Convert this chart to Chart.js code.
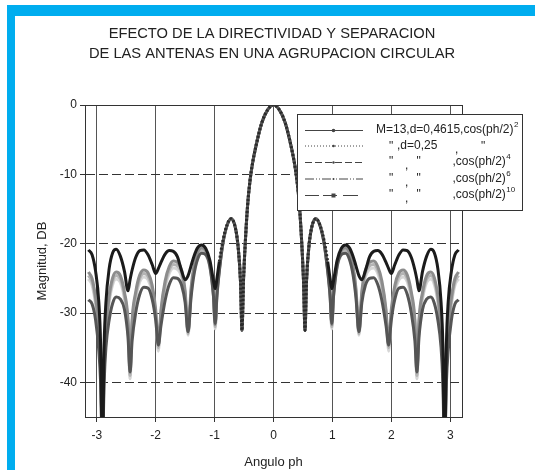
<!DOCTYPE html>
<html><head><meta charset="utf-8">
<script src="https://cdn.jsdelivr.net/npm/chart.js@4.4.1/dist/chart.umd.min.js"></script>
<style>
html,body{margin:0;padding:0;background:#fff;}
#wrap{position:relative;width:535px;height:470px;overflow:hidden;background:#fff;}
.bar{position:absolute;background:#00adef;}
canvas{position:absolute;left:0;top:0;}
</style></head><body>
<div id="wrap">
<div class="bar" style="left:7px;top:5px;width:528px;height:11px"></div>
<div class="bar" style="left:7px;top:5px;width:8px;height:465px"></div>
<canvas id="c" width="535" height="470"></canvas>
</div>
<script>
const titleLines = ['EFECTO DE LA DIRECTIVIDAD Y SEPARACION', 'DE LAS ANTENAS EN UNA AGRUPACION CIRCULAR'];
const xTitle = 'Angulo ph';
const yTitle = 'Magnitud, DB';
const xTicks = [-3, -2, -1, 0, 1, 2, 3];
const yTicks = [0, -10, -20, -30, -40];

const phase = [-3.1416,-3.08,-3.02,-2.965,-2.935,-2.905,-2.875,-2.845,-2.79,-2.73,-2.67,-2.60,-2.53,-2.47,-2.435,-2.40,-2.34,-2.27,-2.20,-2.13,-2.06,-2.00,-1.955,-1.91,-1.84,-1.77,-1.70,-1.63,-1.56,-1.50,-1.45,-1.40,-1.35,-1.29,-1.22,-1.15,-1.08,-1.02,-0.99,-0.96,-0.92,-0.86,-0.79,-0.72,-0.65,-0.60,-0.56,-0.535,-0.51,-0.48,-0.44,-0.40,-0.36,-0.30,-0.20,-0.10,0,0.10,0.20,0.30,0.36,0.40,0.44,0.48,0.51,0.535,0.56,0.60,0.65,0.72,0.79,0.86,0.92,0.96,0.99,1.02,1.08,1.15,1.22,1.29,1.35,1.40,1.45,1.50,1.56,1.63,1.70,1.77,1.84,1.91,1.955,2.00,2.06,2.13,2.20,2.27,2.34,2.40,2.435,2.47,2.53,2.60,2.67,2.73,2.79,2.845,2.875,2.905,2.935,2.965,3.02,3.08,3.1416];

// M=13, d=0,4615, cos(ph/2)^2
const dbCos2 = [-20.9,-21.6,-24.0,-28.5,-34.5,-50,-34.5,-28.5,-23.6,-21.3,-20.8,-21.8,-24.0,-26.8,-25.2,-23.8,-22.0,-21.0,-20.9,-21.6,-23.0,-24.3,-23.6,-22.7,-21.5,-21.0,-21.1,-21.9,-23.9,-25.2,-24.6,-23.2,-21.8,-20.6,-20.2,-20.7,-22.4,-25.3,-26.5,-25.0,-22.6,-19.6,-17.3,-16.4,-17.6,-20.5,-25.5,-32.5,-25.5,-20.0,-14.5,-11.0,-8.6,-6.0,-2.6,-0.7,0,-0.7,-2.6,-6.0,-8.6,-11.0,-14.5,-20.0,-25.5,-32.5,-25.5,-20.5,-17.6,-16.4,-17.3,-19.6,-22.6,-25.0,-26.5,-25.3,-22.4,-20.7,-20.2,-20.6,-21.8,-23.2,-24.6,-25.2,-23.9,-21.9,-21.1,-21.0,-21.5,-22.7,-23.6,-24.3,-23.0,-21.6,-20.9,-21.0,-22.0,-23.8,-25.2,-26.8,-24.0,-21.8,-20.8,-21.3,-23.6,-28.5,-34.5,-50,-34.5,-28.5,-24.0,-21.6,-20.9];
// d=0,25
const dbD025 = [-24.1,-25.0,-27.8,-32.0,-37.0,-50,-37.0,-32.0,-27.5,-24.9,-24.1,-24.6,-27.0,-31.0,-38.5,-31.0,-27.0,-24.5,-23.8,-24.2,-26.0,-29.5,-34.6,-29.5,-25.4,-23.3,-22.5,-22.7,-23.8,-26.8,-32.7,-26.5,-23.2,-21.3,-20.6,-21.0,-22.8,-27.0,-31.7,-27.0,-23.6,-19.9,-17.4,-16.4,-17.6,-20.5,-25.5,-32.5,-25.5,-20.0,-14.5,-11.0,-8.6,-6.0,-2.6,-0.7,0,-0.7,-2.6,-6.0,-8.6,-11.0,-14.5,-20.0,-25.5,-32.5,-25.5,-20.5,-17.6,-16.4,-17.4,-19.9,-23.6,-27.0,-31.7,-27.0,-22.8,-21.0,-20.6,-21.3,-23.2,-26.5,-32.7,-26.8,-23.8,-22.7,-22.5,-23.3,-25.4,-29.5,-34.6,-29.5,-26.0,-24.2,-23.8,-24.5,-27.0,-31.0,-38.5,-31.0,-27.0,-24.6,-24.1,-24.9,-27.5,-32.0,-37.0,-50,-37.0,-32.0,-27.8,-25.0,-24.1];
// cos(ph/2)^4
const dbCos4 = [-24.6,-25.5,-28.3,-32.5,-37.5,-50,-37.5,-32.5,-28.0,-25.4,-24.6,-25.1,-27.5,-31.5,-39.0,-31.5,-27.5,-25.0,-24.3,-24.7,-26.5,-30.0,-35.0,-30.0,-25.9,-23.8,-23.0,-23.2,-24.3,-27.3,-33.0,-27.0,-23.7,-21.7,-20.9,-21.3,-23.1,-27.3,-32.0,-27.3,-23.8,-20.0,-17.4,-16.4,-17.6,-20.5,-25.5,-32.5,-25.5,-20.0,-14.5,-11.0,-8.6,-6.0,-2.6,-0.7,0,-0.7,-2.6,-6.0,-8.6,-11.0,-14.5,-20.0,-25.5,-32.5,-25.5,-20.5,-17.6,-16.4,-17.4,-20.0,-23.8,-27.3,-32.0,-27.3,-23.1,-21.3,-20.9,-21.7,-23.7,-27.0,-33.0,-27.3,-24.3,-23.2,-23.0,-23.8,-25.9,-30.0,-35.0,-30.0,-26.5,-24.7,-24.3,-25.0,-27.5,-31.5,-39.0,-31.5,-27.5,-25.1,-24.6,-25.4,-28.0,-32.5,-37.5,-50,-37.5,-32.5,-28.3,-25.5,-24.6];
// cos(ph/2)^6
const dbCos6 = [-25.1,-26.0,-28.8,-33.0,-38.0,-50,-38.0,-33.0,-28.5,-25.9,-25.1,-25.6,-28.0,-32.0,-39.5,-32.0,-28.0,-25.5,-24.8,-25.2,-27.0,-30.5,-35.5,-30.5,-26.4,-24.3,-23.5,-23.7,-24.8,-27.8,-33.2,-27.5,-24.1,-22.0,-21.2,-21.6,-23.4,-27.6,-32.3,-27.6,-24.0,-20.1,-17.5,-16.4,-17.6,-20.5,-25.5,-32.5,-25.5,-20.0,-14.5,-11.0,-8.6,-6.0,-2.6,-0.7,0,-0.7,-2.6,-6.0,-8.6,-11.0,-14.5,-20.0,-25.5,-32.5,-25.5,-20.5,-17.6,-16.4,-17.5,-20.1,-24.0,-27.6,-32.3,-27.6,-23.4,-21.6,-21.2,-22.0,-24.1,-27.5,-33.2,-27.8,-24.8,-23.7,-23.5,-24.3,-26.4,-30.5,-35.5,-30.5,-27.0,-25.2,-24.8,-25.5,-28.0,-32.0,-39.5,-32.0,-28.0,-25.6,-25.1,-25.9,-28.5,-33.0,-38.0,-50,-38.0,-33.0,-28.8,-26.0,-25.1];
// cos(ph/2)^10
const dbCos10 = [-28.1,-28.7,-31.0,-35.5,-40.0,-50,-40.0,-35.0,-31.0,-28.6,-27.7,-28.0,-29.5,-33.5,-38.5,-34.0,-30.0,-27.3,-26.3,-26.4,-28.0,-31.0,-34.6,-31.8,-28.2,-25.9,-24.9,-25.0,-26.0,-28.5,-32.7,-27.8,-24.5,-22.3,-21.4,-21.6,-23.3,-27.5,-31.5,-27.5,-24.0,-20.0,-17.4,-16.4,-17.6,-20.5,-25.5,-32.5,-25.5,-20.0,-14.5,-11.0,-8.6,-6.0,-2.6,-0.7,0,-0.7,-2.6,-6.0,-8.6,-11.0,-14.5,-20.0,-25.5,-32.5,-25.5,-20.5,-17.6,-16.4,-17.4,-20.0,-24.0,-27.5,-31.5,-27.5,-23.3,-21.6,-21.4,-22.3,-24.5,-27.8,-32.7,-28.5,-26.0,-25.0,-24.9,-25.9,-28.2,-31.8,-34.6,-31.0,-28.0,-26.4,-26.3,-27.3,-30.0,-34.0,-38.5,-33.5,-29.5,-28.0,-27.7,-28.6,-31.0,-35.0,-40.0,-50,-40.0,-35.5,-31.0,-28.7,-28.1];

const seriesLabels = ['M=13,d=0,4615,cos(ph/2)^2', 'd=0,25', 'cos(ph/2)^4', 'cos(ph/2)^6', 'cos(ph/2)^10'];

const FONT = '"Liberation Sans", Arial, sans-serif';
const pts = arr => phase.map((p, i) => ({x: p, y: arr[i]}));

const decorPlugin = {
  id: 'decor',
  afterDraw(chart) {
    const ctx = chart.ctx;
    const a = chart.chartArea;
    ctx.save();
    ctx.strokeStyle = '#333';
    ctx.lineWidth = 1;
    ctx.setLineDash([]);
    ctx.strokeRect(Math.round(a.left) + 0.5, Math.round(a.top) + 0.5, Math.round(a.right - a.left), Math.round(a.bottom - a.top));

    ctx.fillStyle = '#222';
    ctx.font = '14.7px ' + FONT;
    ctx.textAlign = 'center';
    ctx.textBaseline = 'middle';
    ctx.fillText(titleLines[0], 272, 34);
    ctx.fillText(titleLines[1], 272, 54);

    const bx = 297.5, by = 114.5, bw = 225, bh = 96;
    ctx.fillStyle = '#fff';
    ctx.fillRect(bx, by, bw, bh);
    ctx.strokeStyle = '#333';
    ctx.strokeRect(bx, by, bw, bh);

    const rows = [130, 145.5, 162, 178.5, 195];
    const x1 = 305, x2 = 363, mx = 333.5;
    ctx.strokeStyle = '#444';
    ctx.fillStyle = '#444';
    ctx.lineWidth = 1;
    const line = (y, dash) => {
      ctx.setLineDash(dash);
      ctx.beginPath(); ctx.moveTo(x1, y + 0.5); ctx.lineTo(x2, y + 0.5); ctx.stroke();
      ctx.setLineDash([]);
    };
    line(rows[0], []);
    ctx.beginPath(); ctx.arc(mx, rows[0] + 0.5, 1.8, 0, Math.PI * 2); ctx.fill();
    line(rows[1], [1, 2]);
    ctx.beginPath(); ctx.arc(mx, rows[1] + 0.5, 1.3, 0, Math.PI * 2); ctx.fill();
    line(rows[2], [7, 3]);
    ctx.beginPath(); ctx.arc(mx, rows[2] + 0.5, 1.2, 0, Math.PI * 2); ctx.fill();
    line(rows[3], [9, 2, 1, 2, 1, 2]);
    ctx.beginPath(); ctx.arc(mx, rows[3] + 0.5, 1.0, 0, Math.PI * 2); ctx.fill();
    ctx.beginPath();
    ctx.moveTo(305, rows[4] + 0.5); ctx.lineTo(319, rows[4] + 0.5);
    ctx.moveTo(323, rows[4] + 0.5); ctx.lineTo(337, rows[4] + 0.5);
    ctx.moveTo(343, rows[4] + 0.5); ctx.lineTo(358, rows[4] + 0.5);
    ctx.stroke();
    ctx.fillRect(mx - 2, rows[4] - 1.5, 4, 4);

    ctx.fillStyle = '#222';
    ctx.textAlign = 'left';
    ctx.textBaseline = 'middle';
    const f = '12px ' + FONT, fs = '8px ' + FONT;
    const sup = (txt, x, y, s) => {
      ctx.font = f; ctx.fillText(txt, x, y);
      const w = ctx.measureText(txt).width;
      ctx.font = fs; ctx.fillText(s, x + w + 0.5, y - 5);
    };
    const parse = lbl => { const i = lbl.indexOf('^'); return [lbl.slice(0, i), lbl.slice(i + 1)]; };
    let p = parse(seriesLabels[0]);
    sup(p[0], 376, rows[0], p[1]);
    ctx.font = f;
    ctx.fillText('"', 389, rows[1] + 1);
    ctx.fillText(',' + seriesLabels[1], 397, rows[1]);
    ctx.fillText(',', 455, rows[1] + 4);
    ctx.fillText('"', 481, rows[1] + 1);
    for (let k = 2; k < 5; k++) {
      ctx.font = f;
      ctx.fillText('"', 389, rows[k]);
      ctx.fillText(',', 405, rows[k] + 4);
      ctx.fillText('"', 416.5, rows[k]);
      p = parse(seriesLabels[k]);
      sup(',' + p[0], 452.5, rows[k], p[1]);
    }
    ctx.restore();
  }
};

const ds = (label, data, color, order, extra) => Object.assign({
  label, data: pts(data), borderColor: color, backgroundColor: color,
  borderWidth: 3, pointRadius: 0, fill: false, order,
  cubicInterpolationMode: 'monotone'
}, extra || {});

const mainLobe = c => Math.abs(c.p0.parsed.x) < 0.95 && Math.abs(c.p1.parsed.x) < 0.95;

new Chart(document.getElementById('c'), {
  type: 'line',
  data: {
    datasets: [
      ds(seriesLabels[0], dbCos2, '#1b1b1b', 0, {segment: {
        borderDash: c => mainLobe(c) ? [2, 2] : undefined,
        borderColor: c => mainLobe(c) ? '#2a2a2a' : undefined
      }}),
      ds(seriesLabels[4], dbCos10, '#555555', 1),
      ds(seriesLabels[1], dbD025, '#8c8c8c', 2),
      ds(seriesLabels[2], dbCos4, '#b4b4b4', 3),
      ds(seriesLabels[3], dbCos6, '#d6d6d6', 4)
    ]
  },
  options: {
    responsive: false,
    animation: false,
    devicePixelRatio: 1,
    layout: {padding: {left: 0, right: 73, top: 105, bottom: 0}},
    plugins: {legend: {display: false}, title: {display: false}, tooltip: {enabled: false}},
    scales: {
      x: {
        type: 'linear', min: -3.2, max: 3.2,
        afterBuildTicks: s => { s.ticks = xTicks.map(v => ({value: v})); },
        afterFit: s => { s.height = 53; },
        ticks: {font: {family: FONT, size: 12}, color: '#222', padding: 6, maxRotation: 0, autoSkip: false,
                callback: v => String(v)},
        grid: {color: '#555', lineWidth: 1, tickLength: 5, tickColor: '#333'},
        border: {display: true, color: '#333'},
        title: {display: true, text: xTitle, font: {family: FONT, size: 13}, color: '#222', padding: {top: 0, bottom: 0}}
      },
      y: {
        type: 'linear', min: -45, max: 0,
        afterBuildTicks: s => { s.ticks = yTicks.map(v => ({value: v})); },
        afterFit: s => { s.width = 85; },
        ticks: {font: {family: FONT, size: 12}, color: '#222', padding: 3, callback: v => String(v)},
        grid: {color: '#333', lineWidth: 1, tickLength: 5, tickColor: '#333', tickBorderDash: []},
        border: {display: true, color: '#333', dash: [9, 4]},
        title: {display: true, text: yTitle, font: {family: FONT, size: 13}, color: '#222', padding: {top: 35, bottom: 0}}
      }
    }
  },
  plugins: [decorPlugin]
});
</script>
</body></html>
